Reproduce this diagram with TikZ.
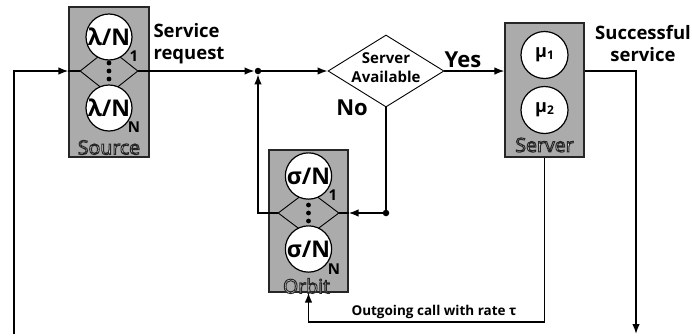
\documentclass[tikz,border=0pt]{standalone}
\usepackage{fontspec}
\setmainfont{Open Sans}
\usetikzlibrary{arrows.meta,shapes.geometric}
\newcommand{\outlinetext}[1]{{\color{black!85}\special{pdf:literal direct 0.93 g}\special{pdf:literal direct 2 Tr 1.0 w}#1\special{pdf:literal direct 0 Tr}}}
\begin{document}
\begin{tikzpicture}[x=1pt,y=-1pt,
  sbox/.style={draw=black!85, fill=black!33, line width=1.1pt, inner sep=0pt},
  ring/.style={circle, draw, fill=white, line width=1.2pt, minimum size=46pt, inner sep=0pt, font=\bfseries\fontsize{23}{23}\selectfont},
  mring/.style={circle, draw, fill=white, line width=1.2pt, minimum size=47pt, inner sep=0pt, font=\bfseries\fontsize{18}{18}\selectfont},
  dmd/.style={diamond, draw, line width=0.9pt, inner sep=0pt},
  conn/.style={line width=1.5pt},
  arr/.style={conn, -{Latex[length=10pt,width=7.5pt]}},
  lbl/.style={font=\bfseries\fontsize{18.5}{22}\selectfont},
  big/.style={font=\bfseries\fontsize{22}{22}\selectfont},
  subl/.style={font=\bfseries\fontsize{15}{15}\selectfont, inner sep=0pt},
  boxname/.style={font=\fontsize{19.5}{19.5}\selectfont, inner sep=0pt},
  jdot/.style={circle, fill, inner sep=0pt, minimum size=6.5pt},
  edot/.style={circle, fill, inner sep=0pt, minimum size=4.8pt}]
\useasboundingbox[fill=white] (0,0) rectangle (692,335);

% Source
\node[sbox, minimum width=80pt, minimum height=150pt] (src) at (109,82) {};
\node[dmd, minimum width=58pt, minimum height=46pt] (sd) at (109,71) {};
\node[ring] (l1) at (109,37) {λ/N};
\node[ring] (l2) at (109,108) {λ/N};
\node[edot] (sd1) at (109,63) {};
\node[edot] (sd2) at (109,71) {};
\node[edot] (sd3) at (109,79) {};
\node[subl] (ls1) at (134,56) {1};
\node[subl] (ls2) at (134,127) {N};
\node[boxname] (srcname) at (109,147.5) {\outlinetext{Source}};

% Orbit
\node[sbox, minimum width=79pt, minimum height=142pt] (orb) at (308.5,221) {};
\node[dmd, minimum width=61pt, minimum height=46pt] (od) at (308.5,213) {};
\node[ring] (s1) at (308.5,176) {σ/N};
\node[ring] (s2) at (308.5,249) {σ/N};
\node[edot] (od1) at (308.5,205) {};
\node[edot] (od2) at (308.5,213) {};
\node[edot] (od3) at (308.5,221) {};
\node[subl] (os1) at (333,195) {1};
\node[subl] (os2) at (334,269) {N};
\node[boxname] (orbname) at (306.5,286) {\outlinetext{Orbit}};

% Server
\node[sbox, minimum width=79pt, minimum height=134pt] (srv) at (544.5,90) {};
\node[mring] (m1) at (544.5,55) {μ\raisebox{-2pt}{\fontsize{12}{12}\selectfont 1}};
\node[mring] (m2) at (544.5,110) {μ\raisebox{-2pt}{\fontsize{12}{12}\selectfont 2}};
\node[boxname] (srvname) at (544.5,145) {\outlinetext{Server}};

% Decision
\node[dmd, fill=white, minimum width=116pt, minimum height=72pt] (dec) at (386,71) {};
\node[font=\bfseries\fontsize{15}{19}\selectfont, align=center] (dectext) at (386,68) {Server\\Available};

% junctions
\node[jdot] (j1) at (258,71) {};
\node[jdot] (j2) at (386,213) {};

\coordinate (fbl) at (14,334);
\coordinate (fbr) at (636,334);
\coordinate (ob) at (544.5,322);

% connectors
\draw[arr] (fbl) |- (src.west |- sd.center);
\draw[conn] (src.west |- sd.center) -- (sd.west);
\draw[arr] (sd.east) -- (j1);
\draw[arr] (j1) -- (dec.west);
\draw[arr] (dec.east) -- (srv.west |- dec.center);
\draw[conn] (dec.south) -- (j2);
\draw[arr] (j2) -- (orb.east |- od.center);
\draw[conn] (orb.east |- od.center) -- (od.east);
\draw[arr] (od.west) -| (j1);
\draw[arr] (srv.east |- dec.center) -| (fbr);
\draw[arr] (srv.south) -- (ob) -| (orb.south);

% labels
\node[lbl, align=left] (sr) at (189,44) {Service\\request};
\node[lbl, align=center] (ss) at (643,44) {Successful\\service};
\node[big] (yes) at (463,60) {Yes};
\node[big] (no) at (352,108) {No};
\node[font=\bfseries\fontsize{13.5}{13.5}\selectfont] (og) at (434,312) {Outgoing call with rate τ};
\end{tikzpicture}
\end{document}
